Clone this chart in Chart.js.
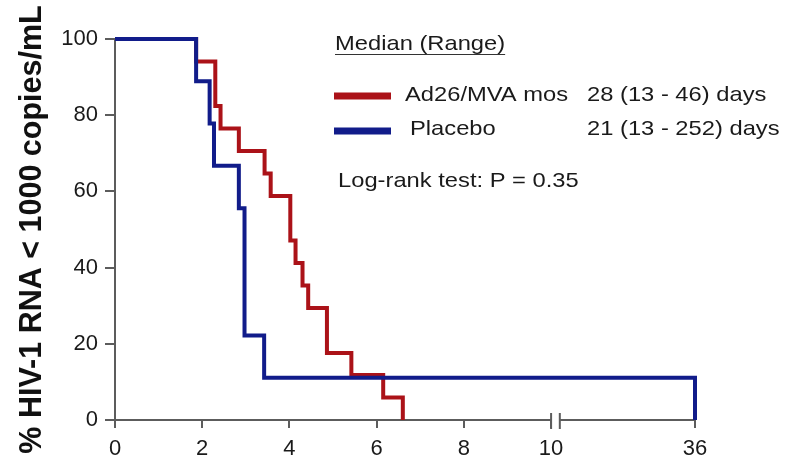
<!DOCTYPE html>
<html>
<head>
<meta charset="utf-8">
<script src="https://cdn.jsdelivr.net/npm/chart.js@4.4.1/dist/chart.umd.min.js"></script>
<style>
  html, body { margin: 0; padding: 0; background: #ffffff; }
  #wrap { width: 802px; height: 461px; position: relative; }
</style>
</head>
<body>
<div id="wrap"><canvas id="c" width="802" height="461"></canvas></div>
<script>
// ---- data (time in weeks, survival in %) ----
const seriesNames = ['Ad26/MVA mos', 'Placebo'];
const seriesMedians = ['28 (13 - 46) days', '21 (13 - 252) days'];
const redTimes = [0, 1.86, 2.30, 2.42, 2.84, 3.43, 3.57, 4.02, 4.14, 4.30, 4.43, 4.86, 5.42, 6.15, 6.60];
const redSurv  = [100, 94.1, 82.4, 76.5, 70.6, 64.7, 58.8, 47.1, 41.2, 35.3, 29.4, 17.6, 11.8, 5.9, 0];
const blueTimes = [0, 1.86, 2.17, 2.27, 2.84, 2.97, 3.42, 36];
const blueSurv  = [100, 88.9, 77.8, 66.7, 55.6, 22.2, 11.1, 0];
const xTickValues = [0, 2, 4, 6, 8, 10, 36];
const xTickLabels = ['0', '2', '4', '6', '8', '10', '36'];
const yTickValues = [0, 20, 40, 60, 80, 100];
const legendTitle = 'Median (Range)';
const testText = 'Log-rank test: P = 0.35';
const yTitle = '% HIV-1 RNA < 1000 copies/mL';

// ---- broken x axis: 0..10 linear, then a break, 36 at the end ----
const BREAK_AT = 10, GAP_END = 10.2, REAL_END = 36, AXIS_END = 13.3;
function toAxis(t) {
  if (t <= BREAK_AT) return t;
  return GAP_END + (t - BREAK_AT) / (REAL_END - BREAK_AT) * (AXIS_END - GAP_END);
}
function pts(times, vals) { return times.map((t, i) => ({ x: toAxis(t), y: vals[i] })); }

const RED = '#ab1218', BLUE = '#111c8a', AXIS = '#5c5c5c', TXT = '#1a1a1a';
const FONT = '"Liberation Sans", Arial, Helvetica, sans-serif';

const breakPlugin = {
  id: 'breakAxis',
  beforeDatasetsDraw(chart) {
    const ctx = chart.ctx, xs = chart.scales.x, ca = chart.chartArea;
    const y = ca.bottom;
    ctx.save();
    ctx.strokeStyle = AXIS; ctx.lineWidth = 2; ctx.lineCap = 'butt';
    ctx.beginPath();
    ctx.moveTo(xs.getPixelForValue(0) - 1, y); ctx.lineTo(xs.getPixelForValue(BREAK_AT), y);
    ctx.moveTo(xs.getPixelForValue(GAP_END), y); ctx.lineTo(xs.getPixelForValue(AXIS_END) + 1, y);
    [BREAK_AT, GAP_END].forEach(v => {
      const px = xs.getPixelForValue(v);
      ctx.moveTo(px, y - 7); ctx.lineTo(px, y + 9);
    });
    ctx.stroke();
    ctx.restore();
  },
  afterDraw(chart) {
    const ctx = chart.ctx;
    const SX = 1.13;
    function txt(s, x, y) {
      ctx.save(); ctx.translate(x, y); ctx.scale(SX, 1);
      ctx.fillText(s, 0, 0); ctx.restore();
    }
    ctx.save();
    ctx.fillStyle = TXT; ctx.font = '21px ' + FONT; ctx.textBaseline = 'alphabetic'; ctx.textAlign = 'left';
    txt(legendTitle, 335, 50);
    const w = ctx.measureText(legendTitle).width * SX;
    ctx.strokeStyle = '#333'; ctx.lineWidth = 1;
    ctx.beginPath(); ctx.moveTo(335, 54.5); ctx.lineTo(335 + w, 54.5); ctx.stroke();
    // legend swatches
    ctx.lineWidth = 7; ctx.lineCap = 'butt';
    ctx.strokeStyle = RED; ctx.beginPath(); ctx.moveTo(334, 96); ctx.lineTo(391, 96); ctx.stroke();
    ctx.strokeStyle = BLUE; ctx.beginPath(); ctx.moveTo(334, 131); ctx.lineTo(391, 131); ctx.stroke();
    txt(seriesNames[0], 405, 101);
    txt(seriesMedians[0], 587, 101);
    txt(seriesNames[1], 410, 135);
    txt(seriesMedians[1], 587, 135);
    txt(testText, 338, 187);
    ctx.restore();
  }
};

new Chart(document.getElementById('c'), {
  type: 'line',
  data: {
    datasets: [
      { label: seriesNames[1], data: pts(blueTimes, blueSurv), borderColor: BLUE, order: 0, clip: false },
      { label: seriesNames[0], data: pts(redTimes, redSurv), borderColor: RED, order: 1, clip: false }
    ]
  },
  options: {
    responsive: false,
    animation: false,
    parsing: false,
    layout: { padding: { left: 0, right: 107, top: 39, bottom: 0 } },
    elements: {
      line: { stepped: 'before', borderWidth: 4, tension: 0, borderJoinStyle: 'miter', borderCapStyle: 'butt', fill: false },
      point: { radius: 0, hoverRadius: 0 }
    },
    plugins: { legend: { display: false }, tooltip: { enabled: false } },
    scales: {
      x: {
        type: 'linear', min: 0, max: AXIS_END,
        afterFit(s) { s.height = 41; },
        afterBuildTicks(s) { s.ticks = xTickValues.map(v => ({ value: toAxis(v) })); },
        border: { display: false },
        grid: { drawOnChartArea: false, drawTicks: true, tickLength: 8, color: AXIS, lineWidth: 2 },
        ticks: {
          color: TXT, font: { family: FONT, size: 22 }, padding: 8, maxRotation: 0, autoSkip: false,
          callback(v, i) { return xTickLabels[i]; }
        }
      },
      y: {
        type: 'linear', min: 0, max: 100,
        afterFit(s) { s.width = 115; },
        afterBuildTicks(s) { s.ticks = yTickValues.map(v => ({ value: v })); },
        border: { display: true, color: AXIS, width: 2 },
        grid: { drawOnChartArea: false, drawTicks: true, tickLength: 10, color: AXIS, lineWidth: 2 },
        ticks: { color: TXT, font: { family: FONT, size: 22 }, padding: 7 },
        title: { display: true, text: yTitle, color: '#111', font: { family: FONT, size: 30.5, weight: 'bold' }, padding: { top: 14, bottom: 0 } }
      }
    }
  },
  plugins: [breakPlugin]
});
</script>
</body>
</html>
